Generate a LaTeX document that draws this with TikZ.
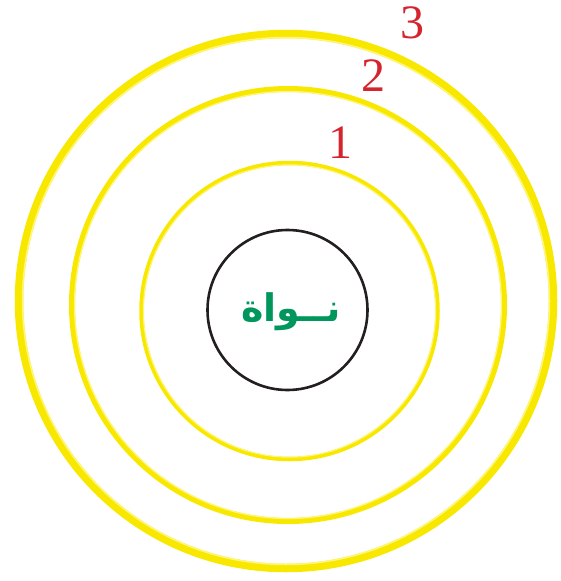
\documentclass[tikz,border=0pt]{standalone}
\usepackage{fontspec}
\setmainfont{Liberation Serif}
\newfontfamily\arabicfont[Script=Arabic]{DejaVu Sans}
\TeXXeTstate=1
\definecolor{ringyellow}{RGB}{248,232,0}
\definecolor{ringlight}{RGB}{255,246,120}
\definecolor{labelred}{RGB}{214,36,46}
\definecolor{nucgreen}{RGB}{0,150,92}
\definecolor{nucline}{RGB}{35,31,32}
\tikzset{
  ring/.style={draw=ringyellow},
  ringhl/.style={draw=ringlight},
  shelllabel/.style={text=labelred, font=\fontsize{48}{48}\selectfont, inner sep=0pt},
}
\begin{document}
\begin{tikzpicture}[x=1pt,y=-1pt]
\useasboundingbox (0,0) rectangle (560,581);
% shells
\draw[ring, line width=8.5pt] (286,301) circle (267);
\draw[ringhl, line width=1.5pt] (286,301) circle (263.5);
\draw[ring, line width=6pt] (288,305) circle (216);
\draw[ringhl, line width=1.2pt] (288,305) circle (213.5);
\draw[ring, line width=4.5pt] (289.5,311) circle (148);
\draw[ringhl, line width=1pt] (289.5,311) circle (146.2);
% nucleus
\node[draw=nucline, line width=2.6pt, circle, minimum size=160pt, inner sep=0pt] (nuc) at (287.5,310) {};
\node[text=nucgreen, font=\arabicfont\bfseries\fontsize{38}{38}\selectfont, inner sep=0pt] (nuctext) at (291,312) {\beginR نــواة\endR};
% labels
\node[shelllabel] (l1) at (340,143) {1};
\node[shelllabel] (l2) at (373,76) {2};
\node[shelllabel] (l3) at (412,23) {3};
\end{tikzpicture}
\end{document}
